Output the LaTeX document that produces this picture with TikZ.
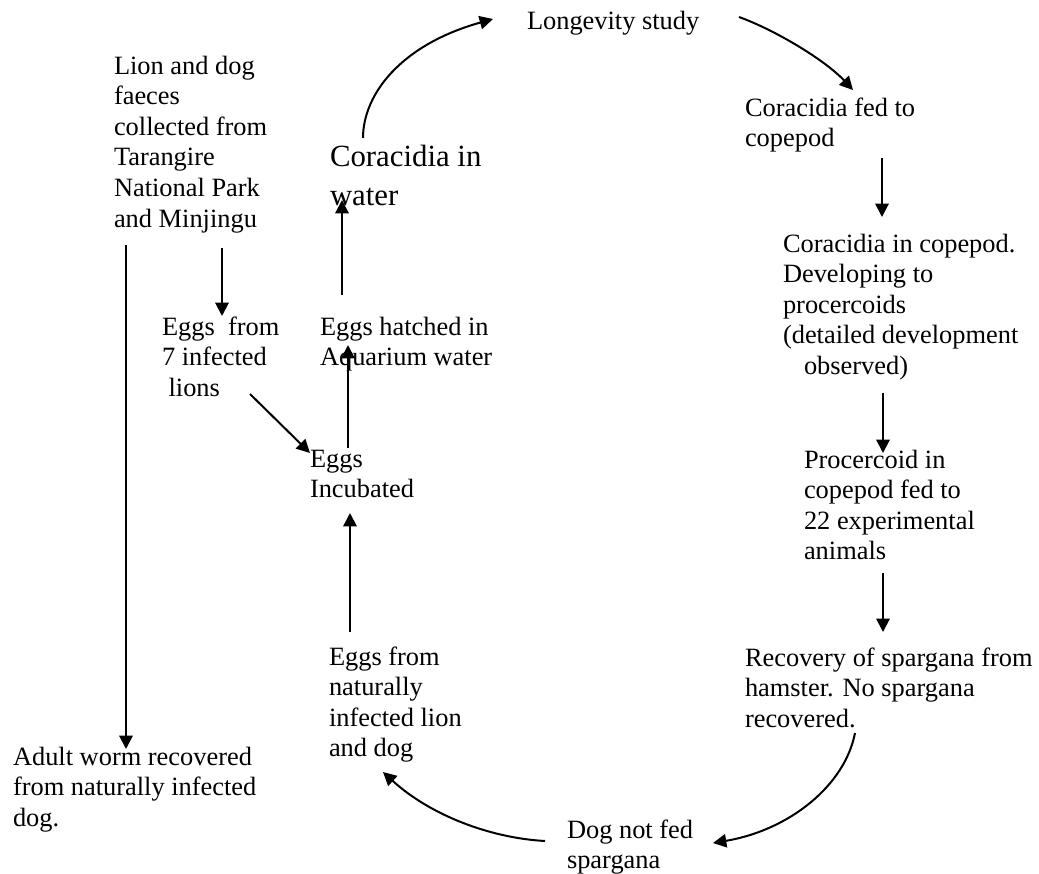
\documentclass[tikz,border=0pt]{standalone}
\usepackage{fontspec}
\setmainfont{Liberation Serif}
\usetikzlibrary{arrows.meta}
\newcommand\nfs{\fontsize{19.8pt}{22.95pt}\selectfont}
\newcommand\lfs{\fontsize{23.1pt}{28.5pt}\selectfont}
\tikzset{
  txt/.style={anchor=north west, inner sep=0pt, outer sep=0pt, align=left, font=\nfs},
  bigtxt/.style={txt, font=\lfs},
  arr/.style={line width=1.5pt, -{Triangle[length=10pt,width=10pt]}}
}
\begin{document}
\begin{tikzpicture}[x=0.75pt,y=-0.75pt]
\path[use as bounding box] (0,0) rectangle (1039,874);

% text nodes
\node[txt] (longevity) at (527,7.6) {\strut Longevity study};
\node[txt] (lion) at (114,52.6) {\strut Lion and dog\\faeces\\collected from\\Tarangire\\National Park\\and Minjingu};
\node[bigtxt] (corwater) at (330,140.4) {\strut Coracidia in\\water};
\node[txt] (fedcop) at (745,94.6) {\strut Coracidia fed to\\copepod};
\node[txt] (incop) at (783,230.6) {\strut Coracidia in copepod.\\Developing to\\procercoids\\(detailed development\\\hspace*{15.75pt}observed)};
\node[txt] (procer) at (804,446.6) {\strut Procercoid in\\copepod fed to\\22 experimental\\animals};
\node[txt] (recov) at (745,644.6) {\strut Recovery of spargana from\\hamster. No spargana\\recovered.};
\node[txt] (dognot) at (567,816.6) {\strut Dog not fed\\spargana};
\node[txt] (eggsnat) at (329,643.6) {\strut Eggs from\\naturally\\infected lion\\and dog};
\node[txt] (adult) at (13,743.6) {\strut Adult worm recovered\\from naturally infected\\dog.};
\node[txt] (eggs7) at (162,313.6) {\strut Eggs\ \ from\\7 infected\\\ lions};
\node[txt] (hatched) at (320,313.6) {\strut Eggs hatched in\\Aquarium water};
\node[txt] (incub) at (310,445.6) {\strut Eggs\\Incubated};

% connector end points
\coordinate (lionA) at (126,245);
\coordinate (adultT) at (126,749);
\coordinate (lionB) at (222,248);
\coordinate (eggs7T) at (222,316);
\coordinate (eggs7S) at (250,394);
\coordinate (incubT) at (310,453);
\coordinate (incubS) at (348,448);
\coordinate (hatchedT) at (348,345);
\coordinate (hatchedS) at (342,295);
\coordinate (corwaterT) at (342,200);
\coordinate (eggsnatS) at (350,632);
\coordinate (incubB) at (350,513);
\coordinate (corwaterS) at (363,138);
\coordinate (longevityT) at (493,19);
\coordinate (longevityS) at (739,17);
\coordinate (fedcopT) at (853,90);
\coordinate (fedcopS) at (882,158);
\coordinate (incopT) at (882,217);
\coordinate (incopS) at (883,393);
\coordinate (procerT) at (883,453);
\coordinate (procerS) at (883,573);
\coordinate (recovT) at (883,632);
\coordinate (recovS) at (855,733);
\coordinate (dognotT) at (713,843);
\coordinate (dognotS) at (545,841);
\coordinate (eggsnatT) at (383,772);

% connectors
\draw[arr] (lionA) -- (adultT);
\draw[arr] (lionB) -- (eggs7T);
\draw[arr] (eggs7S) -- (incubT);
\draw[arr] (incubS) -- (hatchedT);
\draw[arr] (hatchedS) -- (corwaterT);
\draw[arr] (eggsnatS) -- (incubB);
\draw[arr] (corwaterS) .. controls (363,95) and (400,45) .. (longevityT);
\draw[arr] (longevityS) .. controls (775,30) and (825,60) .. (fedcopT);
\draw[arr] (fedcopS) -- (incopT);
\draw[arr] (incopS) -- (procerT);
\draw[arr] (procerS) -- (recovT);
\draw[arr] (recovS) .. controls (845,785) and (790,830) .. (dognotT);
\draw[arr] (dognotS) .. controls (490,838) and (430,815) .. (eggsnatT);
\end{tikzpicture}
\end{document}
